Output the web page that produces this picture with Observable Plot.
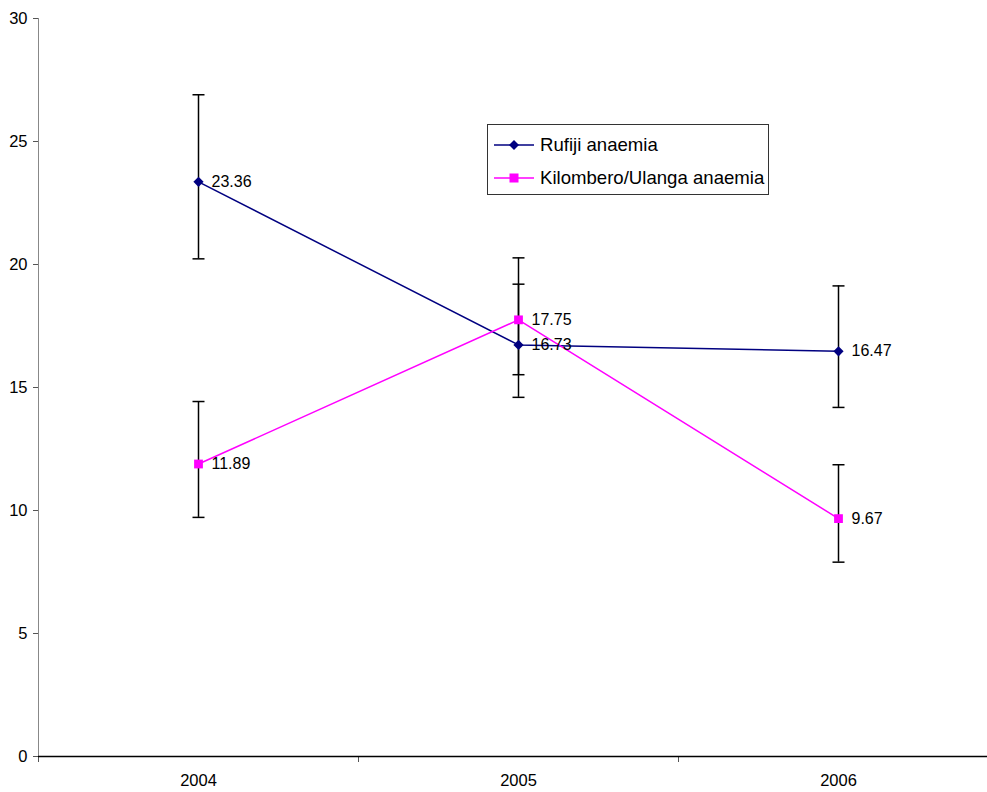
<!DOCTYPE html>
<html>
<head>
<meta charset="utf-8">
<script src="https://cdn.jsdelivr.net/npm/d3@7"></script>
<script src="https://cdn.jsdelivr.net/npm/@observablehq/plot@0.6"></script>
<style>
  body { margin: 0; background: #fff; font-family: "Liberation Sans", Arial, sans-serif; }
  #wrap { position: relative; width: 987px; height: 792px; overflow: hidden; }
  #legend { position: absolute; left: 487px; top: 124px; width: 282px; height: 71px;
    border: 1px solid #333; background: #fff; box-sizing: border-box; }
  .row { position: absolute; left: 6px; height: 22px; display: flex; align-items: center; }
  .row span { font-size: 18.6px; color: #000; margin-left: 6px; white-space: nowrap; }
</style>
</head>
<body>
<div id="wrap"></div>
<script>
const years = [2004, 2005, 2006];
const seriesNames = ["Rufiji anaemia", "Kilombero/Ulanga anaemia"];
const seriesColors = ["#000080", "#ff00ff"];
const rufiji = [23.36, 16.73, 16.47];
const rufijiLow = [20.23, 14.6, 14.19];
const rufijiHigh = [26.9, 19.2, 19.13];
const kilombero = [11.89, 17.75, 9.67];
const kilomberoLow = [9.72, 15.52, 7.9];
const kilomberoHigh = [14.43, 20.27, 11.86];
const yTicks = [0, 5, 10, 15, 20, 25, 30];
const xDomain = [2003.5, 2006.5];
const xBoundaries = [2003.5, 2004.5, 2005.5];

const data = [];
years.forEach((yr, i) => {
  data.push({year: yr, series: seriesNames[0], v: rufiji[i], lo: rufijiLow[i], hi: rufijiHigh[i]});
});
years.forEach((yr, i) => {
  data.push({year: yr, series: seriesNames[1], v: kilombero[i], lo: kilomberoLow[i], hi: kilomberoHigh[i]});
});
const rData = data.filter(d => d.series === seriesNames[0]);
const kData = data.filter(d => d.series === seriesNames[1]);

const capSymbol = { draw(ctx, size) { ctx.moveTo(-6, 0); ctx.lineTo(6, 0); } };

const chart = Plot.plot({
  width: 987,
  height: 792,
  marginTop: 18,
  marginBottom: 36,
  marginLeft: 38,
  marginRight: 0,
  style: { fontFamily: "Liberation Sans, Arial, sans-serif", background: "#fff" },
  x: { domain: xDomain, range: [38, 998] },
  y: { domain: [0, 30] },
  marks: [
    Plot.axisY({ ticks: yTicks, tickSize: 5, tickPadding: 6, fontSize: 16.5, label: null, stroke: "#555", fill: "#000" }),
    Plot.axisX({ ticks: years, tickSize: 0, tickPadding: 18, fontSize: 16.5, label: null, tickFormat: d => String(d), fill: "#000" }),
    Plot.axisX({ ticks: xBoundaries, tickSize: 6, tickFormat: () => "", label: null, stroke: "#555" }),
    Plot.ruleX([xDomain[0]], { stroke: "#888", strokeWidth: 1 }),
    Plot.ruleY([0], { stroke: "#000", strokeWidth: 1.5 }),
    Plot.ruleX(data, { x: "year", y1: "lo", y2: "hi", stroke: "#000", strokeWidth: 1.5 }),
    Plot.dot(data, { x: "year", y: "lo", symbol: capSymbol, stroke: "#000", strokeWidth: 1.5, fill: "none" }),
    Plot.dot(data, { x: "year", y: "hi", symbol: capSymbol, stroke: "#000", strokeWidth: 1.5, fill: "none" }),
    Plot.line(rData, { x: "year", y: "v", stroke: seriesColors[0], strokeWidth: 1.5 }),
    Plot.line(kData, { x: "year", y: "v", stroke: seriesColors[1], strokeWidth: 1.5 }),
    Plot.dot(rData, { x: "year", y: "v", symbol: "diamond2", r: 4.6, fill: seriesColors[0], stroke: "none" }),
    Plot.dot(kData, { x: "year", y: "v", symbol: "square2", r: 5.6, fill: seriesColors[1], stroke: "none" }),
    Plot.text(data, { x: "year", y: "v", text: d => d.v.toFixed(2), dx: 13, textAnchor: "start", fontSize: 16, fill: "#000" })
  ]
});

const wrap = document.getElementById("wrap");
wrap.appendChild(chart);

const legend = document.createElement("div");
legend.id = "legend";
const shapes = [
  '<path d="M20,5 L25,10 L20,15 L15,10 Z" fill="' + seriesColors[0] + '"/>',
  '<rect x="15.5" y="5.5" width="9" height="9" fill="' + seriesColors[1] + '"/>'
];
seriesNames.forEach((name, i) => {
  const row = document.createElement("div");
  row.className = "row";
  row.style.top = (i === 0 ? 9 : 42) + "px";
  row.innerHTML = '<svg width="40" height="20"><line x1="0" y1="10" x2="40" y2="10" stroke="' + seriesColors[i] + '" stroke-width="1.5"/>' + shapes[i] + '</svg><span>' + name + '</span>';
  legend.appendChild(row);
});
wrap.appendChild(legend);
</script>
</body>
</html>
